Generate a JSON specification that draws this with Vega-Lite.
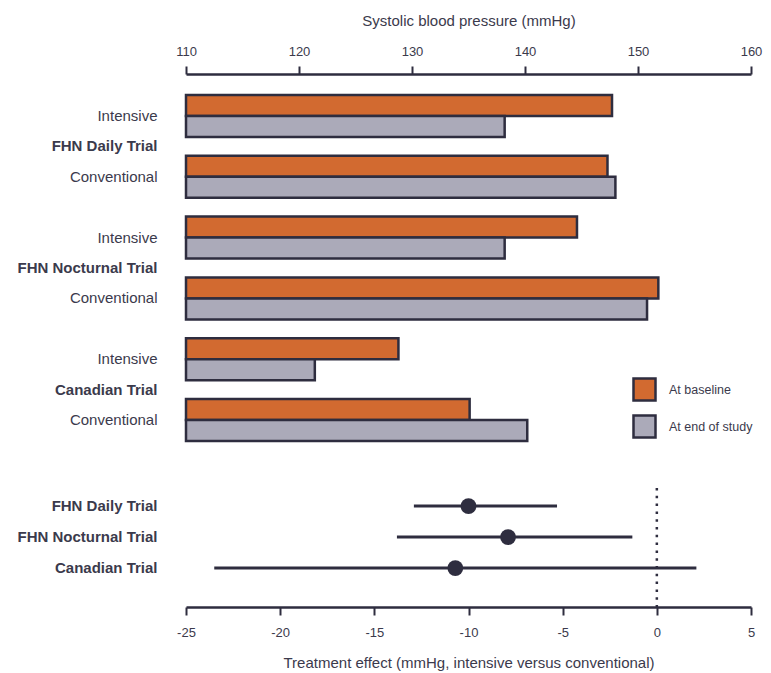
{
  "$schema": "https://vega.github.io/schema/vega-lite/v6.json",
  "padding": {"left": 16, "top": 13, "right": 5, "bottom": 5},
  "spacing": 24,
  "config": {
    "font": "Liberation Sans",
    "view": {"stroke": null},
    "axis": {"labelColor": "#3b3a4c", "titleColor": "#3b3a4c", "domainColor": "#2e2d3f", "tickColor": "#2e2d3f", "grid": false, "labelFlush": false}
  },
  "datasets": {
    "bp": [
      {"row": "FHN Daily Trial|Intensive", "status": "At baseline", "value": 147.7},
      {"row": "FHN Daily Trial|Intensive", "status": "At end of study", "value": 138.2},
      {"row": "FHN Daily Trial|Conventional", "status": "At baseline", "value": 147.3},
      {"row": "FHN Daily Trial|Conventional", "status": "At end of study", "value": 148.0},
      {"row": "FHN Nocturnal Trial|Intensive", "status": "At baseline", "value": 144.6},
      {"row": "FHN Nocturnal Trial|Intensive", "status": "At end of study", "value": 138.2},
      {"row": "FHN Nocturnal Trial|Conventional", "status": "At baseline", "value": 151.8},
      {"row": "FHN Nocturnal Trial|Conventional", "status": "At end of study", "value": 150.8},
      {"row": "Canadian Trial|Intensive", "status": "At baseline", "value": 128.8},
      {"row": "Canadian Trial|Intensive", "status": "At end of study", "value": 121.4},
      {"row": "Canadian Trial|Conventional", "status": "At baseline", "value": 135.1},
      {"row": "Canadian Trial|Conventional", "status": "At end of study", "value": 140.2}
    ],
    "effect": [
      {"trial": "FHN Daily Trial", "est": -10.0, "lo": -12.9, "hi": -5.3},
      {"trial": "FHN Nocturnal Trial", "est": -7.9, "lo": -13.8, "hi": -1.3},
      {"trial": "Canadian Trial", "est": -10.7, "lo": -23.5, "hi": 2.1}
    ]
  },
  "vconcat": [
    {
      "width": 565,
      "height": 388,
      "data": {"name": "bp"},
      "encoding": {
        "y": {
          "field": "row", "type": "nominal", "title": null,
          "scale": {
            "domain": ["FHN Daily Trial|Intensive", "FHN Daily Trial", "FHN Daily Trial|Conventional", "gap1",
                       "FHN Nocturnal Trial|Intensive", "FHN Nocturnal Trial", "FHN Nocturnal Trial|Conventional", "gap2",
                       "Canadian Trial|Intensive", "Canadian Trial", "Canadian Trial|Conventional"],
            "paddingInner": 0, "paddingOuter": 0.88
          },
          "axis": {
            "domain": false, "ticks": false, "labelPadding": 29, "labelFontSize": 15,
            "labelExpr": "indexof(datum.value, '|') >= 0 ? split(datum.value, '|')[1] : (indexof(datum.value, 'gap') == 0 ? '' : datum.value)",
            "labelFontWeight": {"condition": {"test": "indexof(datum.value, '|') < 0", "value": "bold"}, "value": "normal"}
          }
        },
        "x": {
          "field": "value", "type": "quantitative",
          "scale": {"domain": [110, 160], "zero": false, "nice": false},
          "axis": {
            "orient": "top", "values": [110, 120, 130, 140, 150, 160], "labelFlush": false,
            "tickSize": 8, "tickWidth": 2, "domainWidth": 2.5, "labelFontSize": 13, "labelPadding": 7.5,
            "title": "Systolic blood pressure (mmHg)", "titleFontSize": 15, "titleFontWeight": "normal", "titlePadding": 17
          }
        },
        "x2": {"datum": 110},
        "color": {
          "field": "status", "type": "nominal",
          "scale": {"domain": ["At baseline", "At end of study"], "range": ["#d26a30", "#abaab9"]},
          "legend": {
            "title": null, "orient": "none", "legendX": 446, "legendY": 303,
            "symbolType": "square", "symbolSize": 484, "symbolStrokeColor": "#2e2d3f", "symbolStrokeWidth": 2.5,
            "symbolOpacity": 1, "labelFontSize": 12.5, "labelColor": "#3b3a4c", "labelOffset": 12, "rowPadding": 4, "padding": 0
          }
        }
      },
      "layer": [
        {
          "transform": [{"filter": "datum.status == 'At baseline'"}],
          "mark": {"type": "bar", "height": 21, "yOffset": -10.5, "stroke": "#2e2d3f", "strokeWidth": 2.5}
        },
        {
          "transform": [{"filter": "datum.status == 'At end of study'"}],
          "mark": {"type": "bar", "height": 21, "yOffset": 10.5, "stroke": "#2e2d3f", "strokeWidth": 2.5}
        }
      ]
    },
    {
      "width": 565,
      "height": 119,
      "data": {"name": "effect"},
      "layer": [
        {
          "data": {"values": [{}]},
          "mark": {"type": "rule", "strokeDash": [2.5, 5.3], "strokeWidth": 2.5, "color": "#2e2d3f"},
          "encoding": {
            "x": {
              "datum": 0, "type": "quantitative",
              "scale": {"domain": [-25, 5], "nice": false, "zero": false},
              "axis": {
                "values": [-25, -20, -15, -10, -5, 0, 5], "labelExpr": "datum.value + ''", "labelFlush": false,
                "tickSize": 8, "tickWidth": 2, "domainWidth": 2.5, "labelFontSize": 13, "labelPadding": 11.5,
                "title": "Treatment effect (mmHg, intensive versus conventional)", "titleFontSize": 15, "titleFontWeight": "normal", "titlePadding": 16
              }
            }
          }
        },
        {
          "mark": {"type": "rule", "strokeWidth": 3, "color": "#2e2d3f"},
          "encoding": {
            "y": {
              "field": "trial", "type": "nominal", "title": null,
              "scale": {"domain": ["FHN Daily Trial", "FHN Nocturnal Trial", "Canadian Trial"], "paddingInner": 0, "paddingOuter": 0.42, "align": 0.1},
              "axis": {"domain": false, "ticks": false, "labelPadding": 29, "labelFontSize": 15, "labelFontWeight": "bold"}
            },
            "x": {
              "field": "lo", "type": "quantitative",
              "scale": {"domain": [-25, 5], "nice": false, "zero": false},
              "axis": {
                "values": [-25, -20, -15, -10, -5, 0, 5], "labelExpr": "datum.value + ''", "labelFlush": false,
                "tickSize": 8, "tickWidth": 2, "domainWidth": 2.5, "labelFontSize": 13, "labelPadding": 11.5,
                "title": "Treatment effect (mmHg, intensive versus conventional)", "titleFontSize": 15, "titleFontWeight": "normal", "titlePadding": 16
              }
            },
            "x2": {"field": "hi"}
          }
        },
        {
          "mark": {"type": "circle", "size": 250, "color": "#2e2d3f", "opacity": 1},
          "encoding": {
            "y": {
              "field": "trial", "type": "nominal", "title": null,
              "scale": {"domain": ["FHN Daily Trial", "FHN Nocturnal Trial", "Canadian Trial"], "paddingInner": 0, "paddingOuter": 0.42, "align": 0.1},
              "axis": {"domain": false, "ticks": false, "labelPadding": 29, "labelFontSize": 15, "labelFontWeight": "bold"}
            },
            "x": {
              "field": "est", "type": "quantitative",
              "scale": {"domain": [-25, 5], "nice": false, "zero": false},
              "axis": {
                "values": [-25, -20, -15, -10, -5, 0, 5], "labelExpr": "datum.value + ''", "labelFlush": false,
                "tickSize": 8, "tickWidth": 2, "domainWidth": 2.5, "labelFontSize": 13, "labelPadding": 11.5,
                "title": "Treatment effect (mmHg, intensive versus conventional)", "titleFontSize": 15, "titleFontWeight": "normal", "titlePadding": 16
              }
            }
          }
        }
      ]
    }
  ]
}
